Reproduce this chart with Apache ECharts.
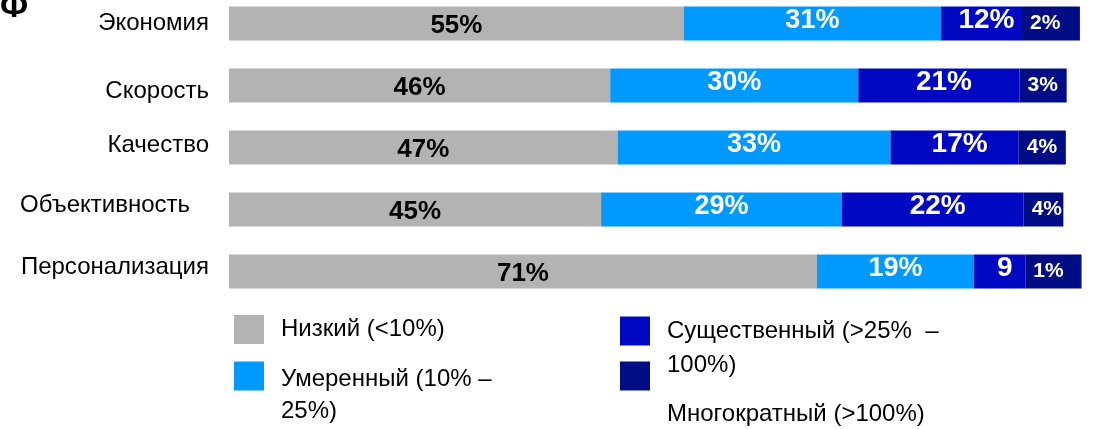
<!DOCTYPE html>
<html>
<head>
<meta charset="utf-8">
<script src="https://cdn.jsdelivr.net/npm/echarts@6/dist/echarts.min.js"></script>
<style>
  html, body { margin: 0; padding: 0; background: #fff; }
  #chart { width: 1097px; height: 429px; }
</style>
</head>
<body>
<div id="chart"></div>
<script>
"use strict";

// categories, top to bottom
const categories = ["Экономия", "Скорость", "Качество", "Объективность", "Персонализация"];

// segment lengths as drawn (the picture's bars are not strictly proportional to their labels)
const lowValues = [55.0, 46.1, 47.0, 45.0, 71.1];
const moderateValues = [31.1, 30.0, 33.0, 29.1, 19.0];
const significantValues = [9.8, 19.5, 15.5, 22.0, 6.2];
const multipleValues = [7.0, 5.7, 5.7, 4.8, 6.8];

// printed labels
const lowLabels = ["55%", "46%", "47%", "45%", "71%"];
const moderateLabels = ["31%", "30%", "33%", "29%", "19%"];
const significantLabels = ["12%", "21%", "17%", "22%", "9"];
const multipleLabels = ["2%", "3%", "4%", "4%", "1%"];

const seriesNames = ["Низкий (<10%)", "Умеренный (10% – 25%)", "Существенный (>25% – 100%)", "Многократный (>100%)"];
const legendLines = [["Низкий (<10%)"], ["Умеренный (10% –", "25%)"], ["Существенный (>25%  –", "100%)"], ["Многократный (>100%)"]];

const colors = { low: "#b3b3b3", moderate: "#0099ff", significant: "#0008c2", multiple: "#000d85", text: "#000000" };
const font = "'Liberation Sans', Arial, sans-serif";

// category label nudges: vertical shift (px, + is down) and extra right gap
const labelShift = [0, 6, -3, -5, -5];
const labelRightGap = [0, 0, 0, 19, 0];

const chart = echarts.init(document.getElementById("chart"), null, { renderer: "canvas" });

function barLabel(texts, extra) {
  return Object.assign({
    show: true, position: "inside", fontFamily: font, fontWeight: "bold",
    formatter: (p) => texts[p.dataIndex],
  }, extra);
}

// an empty spacer line above the text pushes it below its swatch
function legendItem(index, left, top, lineHeight, gap) {
  const body = legendLines[index].map((line) => "{t|" + line + "}").join("\n");
  return {
    data: [seriesNames[index]], left, top, padding: 0, orient: "vertical",
    icon: "rect", itemWidth: 30, itemHeight: 29, itemGap: 0,
    formatter: () => (gap ? "{g| }\n" : "") + body,
    textStyle: {
      fontFamily: font, fontSize: 24, color: colors.text, padding: [0, 0, 0, 12],
      rich: {
        g: { fontFamily: font, fontSize: 12, lineHeight: gap || 1 },
        t: { fontFamily: font, fontSize: 24, color: colors.text, lineHeight },
      },
    },
  };
}

const labelRich = { c: { fontFamily: font, fontSize: 24, color: colors.text, lineHeight: 28 } };
labelShift.forEach((d, i) => {
  if (d !== 0) labelRich["s" + i] = { fontSize: 4, lineHeight: d > 0 ? 2 * d : 2 * -d - 2 };
});

chart.setOption({
  animation: false,
  backgroundColor: "#ffffff",
  title: { text: "Ф", left: 0, top: -9, padding: 0, textStyle: { fontFamily: font, fontSize: 33, fontWeight: "bold", color: colors.text } },
  grid: { left: 229, right: 8, top: -7.5, height: 310, outerBoundsMode: "none", containLabel: false },
  xAxis: { type: "value", min: 0, max: 104, show: false },
  yAxis: {
    type: "category", inverse: true,
    data: categories.map((name, i) => ({ value: name, textStyle: { padding: [0, labelRightGap[i], 0, 0] } })),
    axisLine: { show: false }, axisTick: { show: false }, splitLine: { show: false },
    axisLabel: {
      margin: 20, fontFamily: font, fontSize: 24, color: colors.text, rich: labelRich,
      formatter: (value, i) => {
        const d = labelShift[i];
        if (d > 0) return "{s" + i + "| }\n{c|" + value + "}";
        if (d < 0) return "{c|" + value + "}\n{s" + i + "| }";
        return "{c|" + value + "}";
      },
    },
  },
  legend: [
    legendItem(0, 234, 315, 29, 0),
    legendItem(1, 234, 338, 32, 39),
    legendItem(2, 620, 291, 34, 35),
    legendItem(3, 620, 355.5, 29, 77),
  ],
  series: [
    { name: seriesNames[0], type: "bar", stack: "total", barWidth: 34, data: lowValues, itemStyle: { color: colors.low },
      label: barLabel(lowLabels, { color: colors.text, fontSize: 26, offset: [0, 2] }) },
    { name: seriesNames[1], type: "bar", stack: "total", barWidth: 34, data: moderateValues, itemStyle: { color: colors.moderate },
      label: barLabel(moderateLabels, { color: "#ffffff", fontSize: 27, offset: [0, -3] }) },
    { name: seriesNames[2], type: "bar", stack: "total", barWidth: 34, data: significantValues, itemStyle: { color: colors.significant },
      label: barLabel(significantLabels, { color: "#ffffff", fontSize: 28, offset: [5, -3] }) },
    { name: seriesNames[3], type: "bar", stack: "total", barWidth: 34, data: multipleValues, itemStyle: { color: colors.multiple },
      label: barLabel(multipleLabels, { color: "#ffffff", fontSize: 21, position: "insideLeft", distance: 8 }) },
  ],
});
</script>
</body>
</html>
